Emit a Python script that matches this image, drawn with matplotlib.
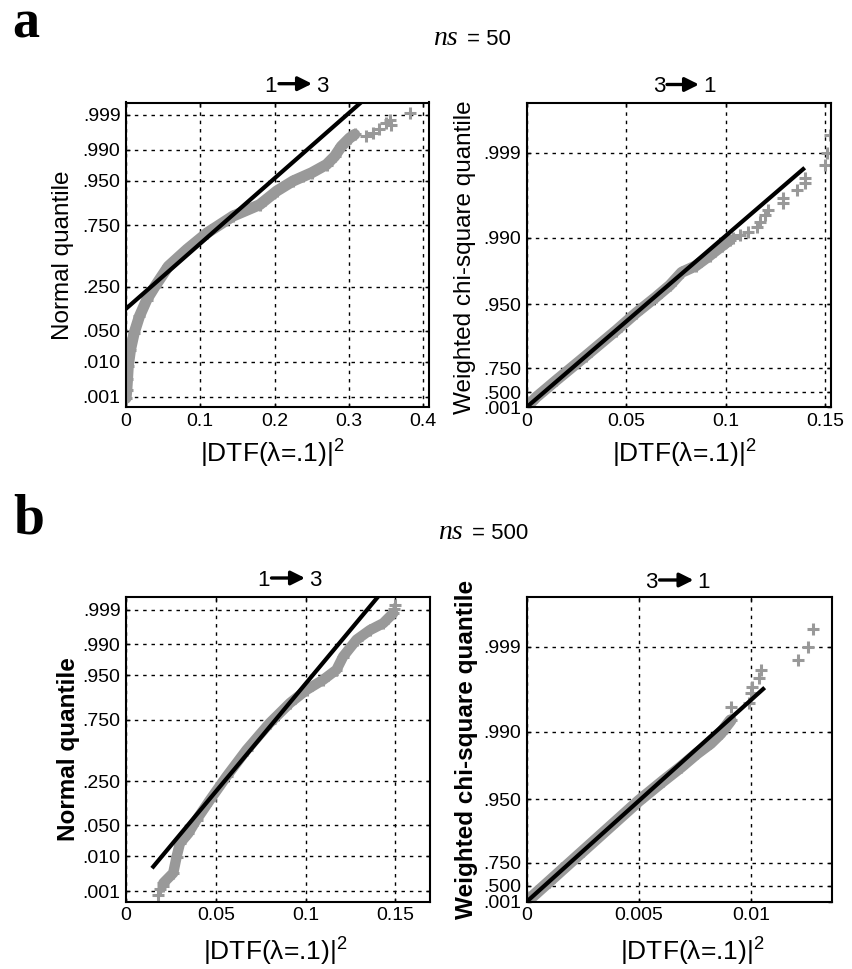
import matplotlib
matplotlib.use('Agg')
import matplotlib.pyplot as plt
from matplotlib.ticker import FuncFormatter
from matplotlib.patches import FancyArrowPatch
from statistics import NormalDist

plt.rcParams['font.family'] = ['Liberation Sans', 'DejaVu Sans']
plt.rcParams['mathtext.default'] = 'regular'

# ---------------- data ----------------
# y of normal panels: theoretical normal quantile (z); y of chi panels: weighted chi-square quantile
norm_tick_p = [0.001, 0.010, 0.050, 0.250, 0.750, 0.950, 0.990, 0.999]
norm_tick_labels = ['.001', '.010', '.050', '.250', '.750', '.950', '.990', '.999']
chi_tick_labels = ['.001', '.500', '.750', '.950', '.990', '.999']
chi_a_tick_q = [0.0, 0.0087, 0.0227, 0.0602, 0.0989, 0.1487]
chi_b_tick_q = [0.0, 0.00079, 0.00193, 0.00509, 0.00843, 0.01265]

# panel a, 1 -> 3 (ns = 50)
a13_band_x = [0.000, 0.001, 0.002, 0.003, 0.006, 0.011, 0.018, 0.028, 0.039, 0.057, 0.082,
              0.109, 0.144, 0.180, 0.203, 0.225, 0.250, 0.270, 0.281, 0.290, 0.301, 0.308]
a13_band_z = [-3.12, -2.95, -2.70, -2.42, -2.06, -1.69, -1.33, -0.96, -0.67, -0.23, 0.14,
              0.50, 0.87, 1.12, 1.42, 1.64, 1.82, 2.00, 2.18, 2.40, 2.58, 2.66]
a13_tail_x = [0.323, 0.333, 0.341, 0.350, 0.355, 0.357, 0.383]
a13_tail_z = [2.62, 2.70, 2.78, 2.90, 2.97, 2.86, 3.14]
a13_fit_x = [0.0, 0.38]
a13_fit_z = [-1.16, 4.27]

# panel a, 3 -> 1 (ns = 50)
a31_band_x = [0.000, 0.005, 0.015, 0.030, 0.045, 0.055, 0.065, 0.072, 0.078, 0.085, 0.092, 0.098, 0.102]
a31_band_q = [0.000, 0.0060, 0.0158, 0.0302, 0.0448, 0.0550, 0.0643, 0.0712, 0.0788, 0.0825, 0.0885, 0.0940, 0.0975]
a31_tail_x = [0.1040, 0.1073, 0.1115, 0.1157, 0.1174, 0.1199, 0.1215, 0.1290, 0.1290, 0.1357,
              0.1399, 0.1399, 0.1499, 0.1508, 0.1525]
a31_tail_q = [0.0987, 0.1006, 0.1026, 0.1055, 0.1084, 0.1123, 0.1152, 0.1191, 0.1221, 0.1269,
              0.1308, 0.1337, 0.1415, 0.1483, 0.1590]
a31_fit_x = [0.0, 0.139]
a31_fit_q = [0.0, 0.139]

# panel b, 1 -> 3 (ns = 500)
b13_band_x = [0.0208, 0.0263, 0.0282, 0.0300, 0.0347, 0.0393, 0.0467, 0.0560, 0.0671, 0.0800,
              0.0913, 0.1006, 0.1098, 0.1172, 0.1209, 0.1284, 0.1358, 0.1432, 0.1488]
b13_band_z = [-2.91, -2.69, -2.33, -2.04, -1.82, -1.52, -1.09, -0.57, 0.01, 0.60,
              1.04, 1.33, 1.55, 1.77, 2.06, 2.43, 2.64, 2.79, 3.01]
b13_tail_x = [0.0180, 0.0190, 0.0205, 0.1490, 0.1497]
b13_tail_z = [-3.17, -3.05, -2.98, 3.10, 3.19]
b13_fit_x = [0.0152, 0.150]
b13_fit_z = [-2.55, 3.83]

# panel b, 3 -> 1 (ns = 500)
b31_band_x = [0.0000, 0.0010, 0.0025, 0.0040, 0.0050, 0.0061, 0.0069, 0.0076, 0.0082, 0.00865, 0.0091]
b31_band_q = [0.0000, 0.0010, 0.0025, 0.0040, 0.0050, 0.0060, 0.0067, 0.00736, 0.00786, 0.00835, 0.0090]
b31_tail_x = [0.0091, 0.00992, 0.0100, 0.01007, 0.01037, 0.01044, 0.01209, 0.01253, 0.01279]
b31_tail_q = [0.00967, 0.00984, 0.01034, 0.01066, 0.01108, 0.01149, 0.01199, 0.01265, 0.01353]
b31_fit_x = [0.0, 0.01055]
b31_fit_q = [0.0, 0.01055]

# ---------------- figure ----------------
W, H = 852, 969
fig = plt.figure(figsize=(W / 100, H / 100), dpi=100)
GRAY = '#999999'
XLABEL = '|DTF(λ=.1)$|^{2}$'


def fx(x):
    return x / W


def fy(y):
    return 1 - y / H


def px_axes(l, t, r, b):
    return fig.add_axes([l / W, 1 - b / H, (r - l) / W, (b - t) / H])


def style(ax, xticks, xlim, yticks, ylabels, ylim):
    ax.set_xlim(xlim)
    ax.set_ylim(ylim)
    ax.set_xticks(xticks)
    ax.xaxis.set_major_formatter(FuncFormatter(lambda v, p: '%g' % v))
    ax.set_yticks(yticks)
    ax.set_yticklabels(ylabels)
    ax.grid(True, color='k', linestyle=(0, (2.5, 3.5)), linewidth=1.0)
    ax.set_axisbelow(True)
    ax.tick_params(direction='in', length=3, width=1, labelsize=14, top=True, right=True, pad=4)
    for s in ax.spines.values():
        s.set_linewidth(1.5)


def draw(ax, bx, by, tx, ty, lx, ly, bw):
    ax.plot(bx, by, color=GRAY, lw=bw, solid_capstyle='round', solid_joinstyle='round',
            marker='+', ms=9, mew=2.2, zorder=2)
    ax.plot(tx, ty, ls='none', marker='+', color=GRAY, ms=9, mew=2.2, zorder=2)
    ax.plot(lx, ly, color='k', lw=3, zorder=3)


def arrow_title(left, right, x1, x2, base):
    fig.text(fx(x1 - 2), fy(base), left, ha='right', va='baseline', fontsize=16)
    fig.text(fx(x2 + 4), fy(base), right, ha='left', va='baseline', fontsize=16)
    ym = fy(base - 8)
    arr = FancyArrowPatch((fx(x1), ym), (fx(x2), ym), transform=fig.transFigure,
                          arrowstyle='-|>', mutation_scale=21, lw=2.4, color='k',
                          shrinkA=0, shrinkB=0)
    fig.add_artist(arr)


norm_ticks = [NormalDist().inv_cdf(p) for p in norm_tick_p]

# panel a left
ax1 = px_axes(126, 102.5, 429, 407.3)
draw(ax1, a13_band_x, a13_band_z, a13_tail_x, a13_tail_z, a13_fit_x, a13_fit_z, 8)
style(ax1, [0, 0.1, 0.2, 0.3, 0.4], (0, 0.408), norm_ticks, norm_tick_labels, (-3.32, 3.36))

# panel a right
ax2 = px_axes(526.5, 103, 831, 407.3)
draw(ax2, a31_band_x, a31_band_q, a31_tail_x, a31_tail_q, a31_fit_x, a31_fit_q, 8)
style(ax2, [0, 0.05, 0.1, 0.15], (0, 0.153), chi_a_tick_q, chi_tick_labels, (0, 0.1776))

# panel b left
ax3 = px_axes(126, 597.3, 429.5, 901.7)
draw(ax3, b13_band_x, b13_band_z, b13_tail_x, b13_tail_z, b13_fit_x, b13_fit_z, 7.5)
style(ax3, [0, 0.05, 0.1, 0.15], (0, 0.169), norm_ticks, norm_tick_labels, (-3.32, 3.36))

# panel b right
ax4 = px_axes(526.7, 597.3, 831.5, 901.7)
draw(ax4, b31_band_x, b31_band_q, b31_tail_x, b31_tail_q, b31_fit_x, b31_fit_q, 8.5)
style(ax4, [0, 0.005, 0.01], (0, 0.0136), chi_b_tick_q, chi_tick_labels, (0, 0.0151))

# y labels
fig.text(fx(52.5), fy(255), 'Normal quantile', rotation=90, ha='left', va='center', fontsize=17.5)
fig.text(fx(454.5), fy(257), 'Weighted chi-square quantile', rotation=90, ha='left', va='center',
         fontsize=17.5)
fig.text(fx(57), fy(749), 'Normal quantile', rotation=90, ha='left', va='center', fontsize=17.5,
         fontweight='bold')
fig.text(fx(455), fy(749), 'Weighted chi-square quantile', rotation=90, ha='left', va='center',
         fontsize=17.5, fontweight='bold')

# x labels
fig.text(fx(272), fy(463), XLABEL, ha='center', va='baseline', fontsize=19)
fig.text(fx(684), fy(463), XLABEL, ha='center', va='baseline', fontsize=19)
fig.text(fx(275), fy(961), XLABEL, ha='center', va='baseline', fontsize=19)
fig.text(fx(692), fy(961), XLABEL, ha='center', va='baseline', fontsize=19)

# titles with arrows
arrow_title('1', '3', 279, 312, 91.7)
arrow_title('3', '1', 667, 699, 92.5)
arrow_title('1', '3', 271.5, 305, 586)
arrow_title('3', '1', 659.5, 693.5, 588)

# panel letters
fig.text(fx(12), fy(37.5), 'a', family='Liberation Serif', fontweight='bold', fontsize=39,
         ha='left', va='baseline')
fig.text(fx(13), fy(533), 'b', family='Liberation Serif', fontweight='bold', fontsize=40,
         ha='left', va='baseline')

# ns labels
fig.text(fx(458), fy(45), 'ns', family='Liberation Serif', style='italic', fontsize=20,
         ha='right', va='baseline')
fig.text(fx(467), fy(45), '= 50', ha='left', va='baseline', fontsize=16)
fig.text(fx(463), fy(539), 'ns', family='Liberation Serif', style='italic', fontsize=20,
         ha='right', va='baseline')
fig.text(fx(472), fy(539), '= 500', ha='left', va='baseline', fontsize=16)

fig.savefig('out.png', dpi=100)
